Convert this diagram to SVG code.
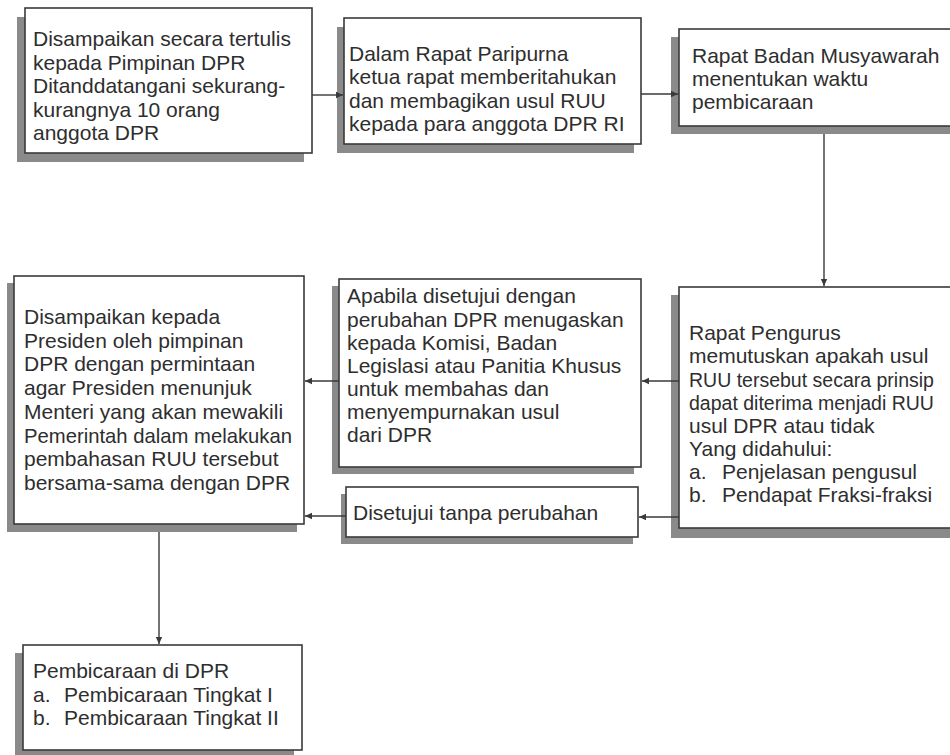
<svg xmlns="http://www.w3.org/2000/svg" width="950" height="755" viewBox="0 0 950 755">
<style>
.sh{fill:#8a8a8a;}
.bx{fill:#fff;stroke:#3a3a3a;stroke-width:1.6;}
.t{font-family:"Liberation Sans",Arial,sans-serif;font-size:21px;fill:#2e2e2e;}
.s{font-size:19.5px;}
.ln{stroke:#3a3a3a;stroke-width:1.4;fill:none;}
</style>
<defs>
<marker id="ah" markerWidth="8" markerHeight="8" refX="7" refY="4" orient="auto" markerUnits="userSpaceOnUse">
<path d="M0,0.8 L7,4 L0,7.2 Z" fill="#3a3a3a"/>
</marker>
</defs>
<rect width="950" height="755" fill="#fff"/>
<g id="n1">
<rect class="sh" x="17" y="17" width="287" height="145"/>
<rect class="bx" x="25" y="8" width="287" height="145"/>
<text class="t" x="33" y="46">Disampaikan secara tertulis</text>
<text class="t" x="33" y="70">kepada Pimpinan DPR</text>
<text class="t" x="33" y="93">Ditanddatangani sekurang-</text>
<text class="t" x="33" y="117">kurangnya 10 orang</text>
<text class="t" x="33" y="140">anggota DPR</text>
</g>
<g id="n2">
<rect class="sh" x="337" y="27" width="297" height="126"/>
<rect class="bx" x="344" y="18" width="297" height="126"/>
<text class="t" x="349" y="61">Dalam Rapat Paripurna</text>
<text class="t" x="349" y="84">ketua rapat memberitahukan</text>
<text class="t" x="349" y="108">dan membagikan usul RUU</text>
<text class="t" x="349" y="131">kepada para anggota DPR RI</text>
</g>
<g id="n3">
<rect class="sh" x="671" y="37" width="300" height="97"/>
<rect class="bx" x="679" y="29" width="300" height="97"/>
<text class="t" x="692" y="63">Rapat Badan Musyawarah</text>
<text class="t" x="692" y="86">menentukan waktu</text>
<text class="t" x="692" y="109">pembicaraan</text>
</g>
<g id="n4">
<rect class="sh" x="671" y="295" width="300" height="243"/>
<rect class="bx" x="679" y="287" width="300" height="241"/>
<text class="t" x="689" y="340">Rapat Pengurus</text>
<text class="t" x="689" y="363">memutuskan apakah usul</text>
<text class="t s" x="689" y="387">RUU tersebut secara prinsip</text>
<text class="t s" x="689" y="410">dapat diterima menjadi RUU</text>
<text class="t" x="689" y="433">usul DPR atau tidak</text>
<text class="t" x="689" y="456">Yang didahului:</text>
<text class="t" x="689" y="479">a.</text><text class="t" x="722" y="479">Penjelasan pengusul</text>
<text class="t" x="689" y="502">b.</text><text class="t" x="722" y="502">Pendapat Fraksi-fraksi</text>
</g>
<g id="n5">
<rect class="sh" x="332" y="286" width="302" height="188"/>
<rect class="bx" x="339" y="279" width="302" height="188"/>
<text class="t" x="347" y="303">Apabila disetujui dengan</text>
<text class="t" x="347" y="327">perubahan DPR menugaskan</text>
<text class="t" x="347" y="350">kepada Komisi, Badan</text>
<text class="t" x="347" y="373">Legislasi atau Panitia Khusus</text>
<text class="t" x="347" y="396">untuk membahas dan</text>
<text class="t" x="347" y="419">menyempurnakan usul</text>
<text class="t" x="347" y="442">dari DPR</text>
</g>
<g id="n6">
<rect class="sh" x="341" y="494" width="292" height="50"/>
<rect class="bx" x="346" y="487" width="292" height="50"/>
<text class="t" x="353" y="520">Disetujui tanpa perubahan</text>
</g>
<g id="n7">
<rect class="sh" x="7" y="283" width="290" height="249"/>
<rect class="bx" x="14" y="276" width="290" height="248"/>
<text class="t" x="24" y="324">Disampaikan kepada</text>
<text class="t" x="24" y="348">Presiden oleh pimpinan</text>
<text class="t" x="24" y="371">DPR dengan permintaan</text>
<text class="t" x="24" y="395">agar Presiden menunjuk</text>
<text class="t" x="24" y="419">Menteri yang akan mewakili</text>
<text class="t" x="24" y="443" textLength="268" lengthAdjust="spacingAndGlyphs">Pemerintah dalam melakukan</text>
<text class="t" x="24" y="466">pembahasan RUU tersebut</text>
<text class="t" x="24" y="490">bersama-sama dengan DPR</text>
</g>
<g id="n8">
<rect class="sh" x="15" y="653" width="279" height="103"/>
<rect class="bx" x="23" y="645" width="279" height="105"/>
<text class="t" x="33" y="678">Pembicaraan di DPR</text>
<text class="t" x="33" y="702">a.</text><text class="t" x="64" y="702">Pembicaraan Tingkat I</text>
<text class="t" x="33" y="725">b.</text><text class="t" x="64" y="725">Pembicaraan Tingkat II</text>
</g>
<g id="connectors">
<line class="ln" x1="312" y1="95" x2="343" y2="95" marker-end="url(#ah)"/>
<line class="ln" x1="641" y1="94" x2="678" y2="94" marker-end="url(#ah)"/>
<line class="ln" x1="824" y1="134" x2="824" y2="286" marker-end="url(#ah)"/>
<line class="ln" x1="679" y1="381" x2="642" y2="381" marker-end="url(#ah)"/>
<line class="ln" x1="679" y1="517" x2="639" y2="517" marker-end="url(#ah)"/>
<line class="ln" x1="339" y1="381" x2="305" y2="381" marker-end="url(#ah)"/>
<line class="ln" x1="346" y1="516" x2="305" y2="516" marker-end="url(#ah)"/>
<line class="ln" x1="159" y1="532" x2="159" y2="644" marker-end="url(#ah)"/>
</g>
</svg>
